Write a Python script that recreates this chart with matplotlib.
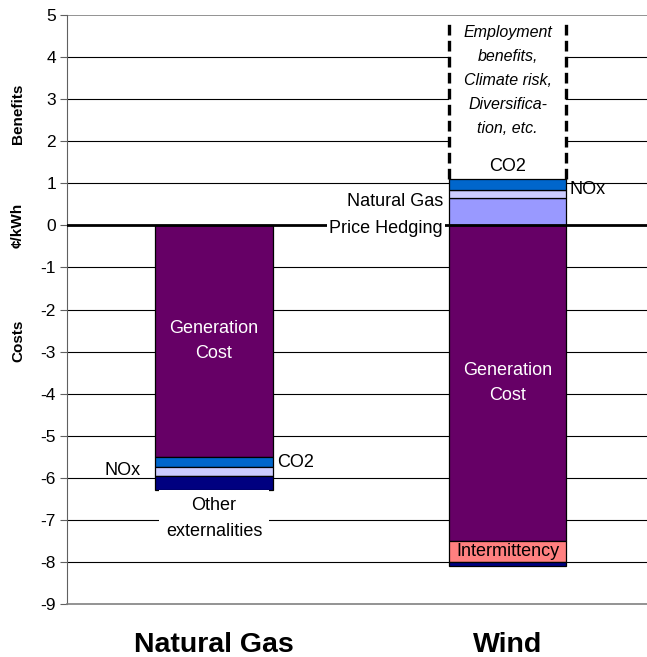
import matplotlib.pyplot as plt
from matplotlib.transforms import blended_transform_factory

plt.rcParams['font.family'] = ['Liberation Sans', 'DejaVu Sans']

categories = ['Natural Gas', 'Wind']

# segments stacked outward from zero, costs negative, benefits positive
gas_parts = ['Generation Cost', 'CO2', 'NOx', 'Other externalities']
gas_values = [-5.5, -0.25, -0.2, -0.35]

wind_cost_parts = ['Generation Cost', 'Intermittency', 'Other externalities']
wind_cost_values = [-7.5, -0.5, -0.1]

wind_benefit_parts = ['Natural Gas Price Hedging', 'NOx', 'CO2']
wind_benefit_values = [0.65, 0.2, 0.25]

# unquantified benefits shown as an open dashed box above the wind bar
unquantified_text = 'Employment\nbenefits,\nClimate risk,\nDiversifica-\ntion, etc.'
unquantified_top = 4.9

yticks = list(range(-9, 6))

colors = {
    'Generation Cost': '#660066',
    'CO2': '#0066CC',
    'NOx': '#CCCCFF',
    'Other externalities': '#000080',
    'Natural Gas Price Hedging': '#9999FF',
    'Intermittency': '#FF8080',
}

W, H = 647, 657
fig = plt.figure(figsize=(W / 100, H / 100), dpi=100)
ax = fig.add_axes([67 / W, 1 - 604 / H, 580 / W, 589 / H])

bar_w = 0.40


def stack(x, parts, values):
    """Draw a stack of segments and return {part: (bottom, top)}."""
    spans = {}
    base = 0.0
    for p, v in zip(parts, values):
        ax.bar(x, v, bottom=base, width=bar_w, color=colors[p],
               edgecolor='black', linewidth=0.9, zorder=3)
        spans[p] = (base, base + v)
        base += v
    return spans, base


gas, gas_total = stack(0, gas_parts, gas_values)
wcost, wcost_total = stack(1, wind_cost_parts, wind_cost_values)
wben, wben_total = stack(1, wind_benefit_parts, wind_benefit_values)

# open box for benefits not given a value
ax.bar(1, unquantified_top - wben_total, bottom=wben_total, width=bar_w,
       color='white', linewidth=0, zorder=2)
ax.vlines([1 - bar_w / 2, 1 + bar_w / 2], wben_total, unquantified_top,
          colors='black', linewidth=2.4, linestyles=(0, (3.2, 1.6)), zorder=4)
ax.text(1, 3.45, unquantified_text, ha='center', va='center', fontsize=11.5,
        style='italic', linespacing=1.75, zorder=5)

# horizontal grid
for t in yticks:
    if t == -9:
        continue
    if t == 5:
        ax.axhline(t, color='#808080', linewidth=1.2, zorder=1)
    elif t == 0:
        ax.axhline(t, color='black', linewidth=2.0, zorder=3.5)
    else:
        ax.axhline(t, color='black', linewidth=0.8, zorder=1)


def mid(span):
    return (span[0] + span[1]) / 2


fs = 13
ls = 1.65

# natural gas labels
ax.text(0, mid(gas['Generation Cost']), 'Generation\nCost', color='white',
        ha='center', va='center', fontsize=fs, linespacing=ls, zorder=5)
ax.text(bar_w / 2 + 0.015, mid(gas['CO2']), 'CO2', ha='left', va='center',
        fontsize=fs, zorder=5)
ax.text(-bar_w / 2 - 0.05, mid(gas['NOx']) + 0.02, 'NOx', ha='right',
        va='center', fontsize=fs, zorder=5)
ax.text(0, gas_total - 0.15, 'Other\nexternalities', ha='center', va='top',
        fontsize=fs, linespacing=1.75,
        bbox=dict(facecolor='white', edgecolor='none', pad=5), zorder=5)

# wind labels
ax.text(1, mid(wcost['Generation Cost']), 'Generation\nCost', color='white',
        ha='center', va='center', fontsize=fs, linespacing=ls, zorder=5)
ax.text(1, mid(wcost['Intermittency']), 'Intermittency', ha='center',
        va='center', fontsize=fs, zorder=5)
ax.text(1, wben_total + 0.1, 'CO2', ha='center', va='bottom', fontsize=fs,
        zorder=5)
ax.text(1 + bar_w / 2 + 0.01, mid(wben['NOx']) + 0.1, 'NOx', ha='left',
        va='center', fontsize=fs, zorder=5)
ax.text(1 - bar_w / 2 - 0.02, mid(wben['Natural Gas Price Hedging']) - 0.07,
        'Natural Gas\nPrice Hedging', ha='right', va='center', fontsize=fs,
        linespacing=1.75,
        bbox=dict(facecolor='white', edgecolor='none', pad=1.5), zorder=5)

ax.set_xlim(-0.501, 1.475)
ax.set_ylim(-9, 5)
ax.set_yticks(yticks)
ax.set_yticklabels([str(t) for t in yticks], fontsize=12.5)
ax.tick_params(axis='y', length=5, width=0.8, pad=3, color='#606060')
ax.set_xticks([0, 1])
ax.set_xticklabels(categories, fontsize=20.5, fontweight='bold')
ax.tick_params(axis='x', length=0, pad=20)

for s in ['top', 'right']:
    ax.spines[s].set_visible(False)
ax.spines['left'].set_color('#606060')
ax.spines['bottom'].set_color('#808080')
ax.spines['bottom'].set_linewidth(1.2)

trans = blended_transform_factory(ax.transAxes, ax.transData)
for label, yv in [('Benefits', 2.65), ('\u00a2/kWh', 0), ('Costs', -2.75)]:
    ax.text(-0.0845, yv, label, transform=trans, rotation=90, ha='center',
            va='center', fontsize=11, fontweight='bold')

fig.savefig('out.png', dpi=100)
